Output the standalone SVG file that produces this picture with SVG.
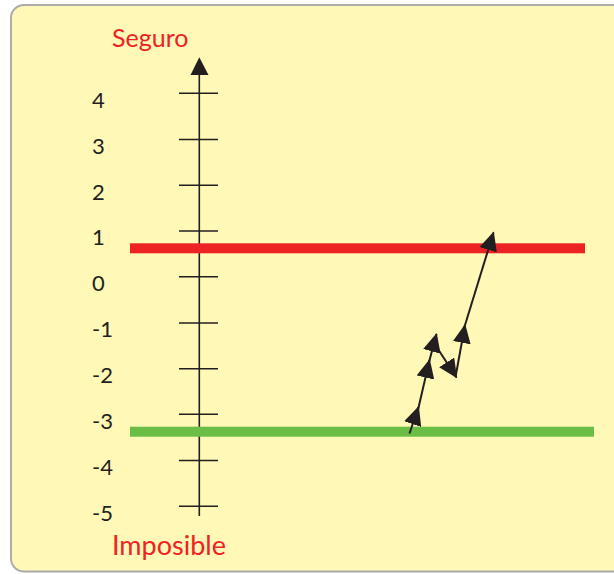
<svg xmlns="http://www.w3.org/2000/svg" width="614" height="574" viewBox="0 0 614 574">
<style>
.num{font-family:Lato,"Liberation Sans",sans-serif;font-size:22px;fill:#231f20}
.lbl{font-family:Lato,"Liberation Sans",sans-serif;font-size:25px;fill:#ed2224}
.tick{stroke:#231f20;stroke-width:1.6}
.seg{stroke:#231f20;stroke-width:2;fill:none;marker-end:url(#ah)}
</style>
<defs>
<marker id="ah" markerUnits="userSpaceOnUse" markerWidth="19" markerHeight="18" refX="18" refY="9" orient="auto" viewBox="0 0 19 18">
<path d="M0,0 L19,9 L0,18 z" fill="#231f20"/>
</marker>
</defs>
<rect x="11" y="5" width="630" height="566.5" rx="13" fill="#fff8b6" stroke="#acacac" stroke-width="2"/>
<g id="title-top"><text class="lbl" x="112" y="47">Seguro</text></g>
<g id="title-bottom"><text class="lbl" x="112" y="555" style="font-size:27px">Imposible</text></g>
<g id="axis">
<line x1="199.3" y1="74" x2="199.3" y2="516" class="tick"/>
<polygon points="199.3,57.3 208.5,75 190.5,75" fill="#231f20"/>
<line class="tick" x1="179" y1="93.3" x2="218" y2="93.3"/>
<line class="tick" x1="179" y1="139.5" x2="218" y2="139.5"/>
<line class="tick" x1="179" y1="185.3" x2="218" y2="185.3"/>
<line class="tick" x1="179" y1="231" x2="218" y2="231"/>
<line class="tick" x1="179" y1="276.7" x2="218" y2="276.7"/>
<line class="tick" x1="179" y1="323" x2="218" y2="323"/>
<line class="tick" x1="179" y1="368.7" x2="218" y2="368.7"/>
<line class="tick" x1="179" y1="414.3" x2="218" y2="414.3"/>
<line class="tick" x1="179" y1="460.5" x2="218" y2="460.5"/>
<line class="tick" x1="179" y1="506.3" x2="218" y2="506.3"/>
</g>
<g id="labels">
<text class="num" x="92" y="107.5">4</text>
<text class="num" x="92" y="153.5">3</text>
<text class="num" x="92" y="199.5">2</text>
<text class="num" x="92" y="245">1</text>
<text class="num" x="92" y="291">0</text>
<text class="num" x="92" y="337">-1</text>
<text class="num" x="92" y="383">-2</text>
<text class="num" x="92" y="428.5">-3</text>
<text class="num" x="92" y="474.5">-4</text>
<text class="num" x="92" y="520.5">-5</text>
</g>
<g id="red-line"><rect x="130" y="243.3" width="455" height="10" fill="#ed2224"/></g>
<g id="green-line"><rect x="130" y="426.7" width="464" height="10" fill="#6abd45"/></g>
<g id="connectors">
<line class="seg" x1="409.5" y1="433.5" x2="418.5" y2="407"/>
<line class="seg" x1="417.5" y1="412" x2="429.5" y2="360"/>
<line class="seg" x1="428.5" y1="364" x2="436.5" y2="334"/>
<line class="seg" x1="434" y1="343" x2="456.5" y2="377.5"/>
<line class="seg" x1="455.5" y1="377" x2="465" y2="325"/>
<line class="seg" x1="463.5" y1="330" x2="493.5" y2="232.5"/>
</g>
</svg>
